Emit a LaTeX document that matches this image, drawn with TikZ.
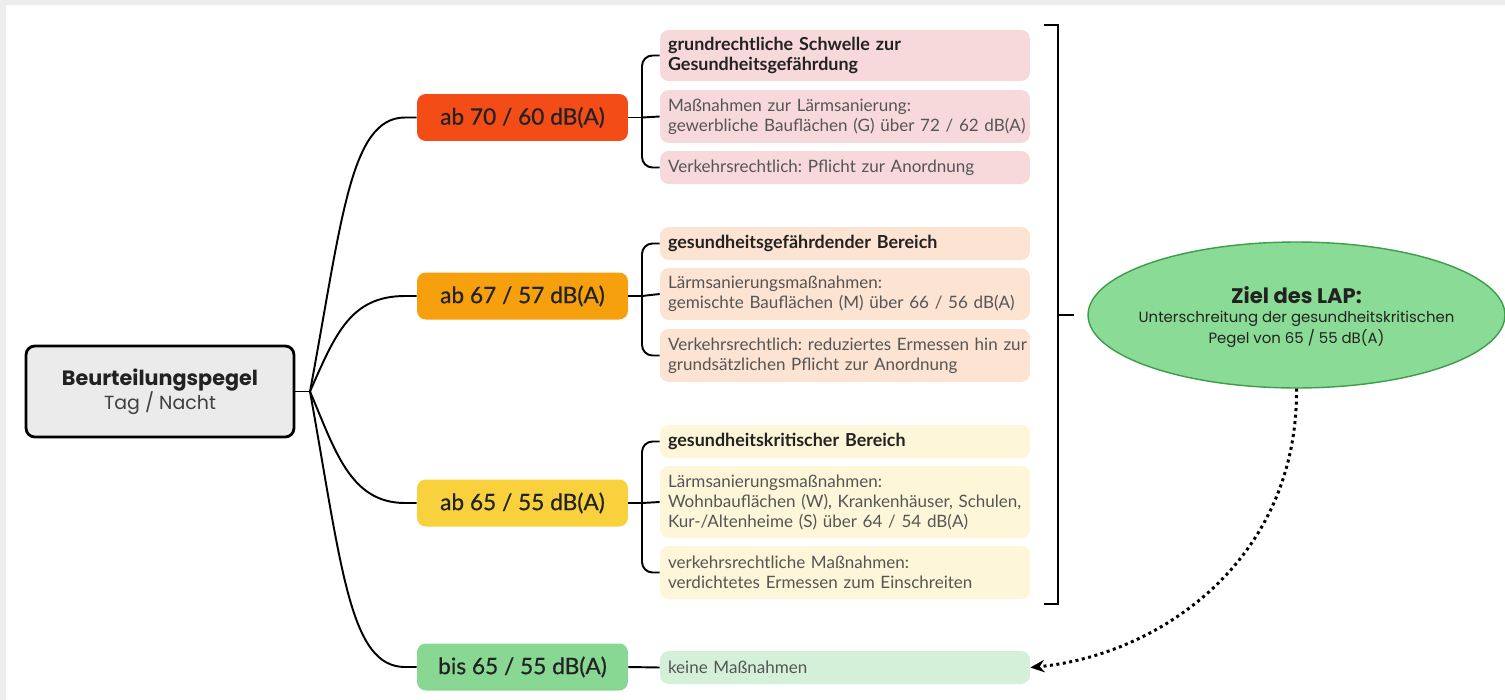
\documentclass[tikz,border=0pt]{standalone}
\usepackage{fontspec}
\setmainfont{Lato}
\newfontfamily\pop{Poppins}
\newfontfamily\latomed[FakeBold=0.5]{Lato}
\usetikzlibrary{arrows.meta,shapes.geometric}
\frenchspacing
\definecolor{bgframe}{HTML}{EDEDED}
\definecolor{rootfill}{HTML}{EBEBEB}
\definecolor{lvA}{HTML}{F44C16}
\definecolor{lvB}{HTML}{F6A00E}
\definecolor{lvC}{HTML}{F8D13C}
\definecolor{lvD}{HTML}{88D894}
\definecolor{itA}{HTML}{F8D9DB}
\definecolor{itB}{HTML}{FCE3D2}
\definecolor{itC}{HTML}{FEF6D9}
\definecolor{itD}{HTML}{D4F0D8}
\definecolor{ellfill}{HTML}{8ADB95}
\definecolor{elldraw}{HTML}{3E9C4B}
\definecolor{txtdark}{HTML}{222222}
\definecolor{txtgray}{HTML}{555555}
\definecolor{txtsub}{HTML}{404040}
\newcommand{\subfnt}{\pop\mdseries\fontsize{8.5}{10.5}\selectfont}
\begin{document}
\begin{tikzpicture}[x=0.02cm,y=-0.02cm,
  rootbox/.style={draw=black,line width=1.6pt,rounded corners=5pt,fill=rootfill,
    minimum width=5.36cm,minimum height=1.82cm,align=center,font=\pop\fontsize{10.8}{13}\selectfont,text=txtdark},
  level/.style={rounded corners=5pt,minimum width=4.22cm,minimum height=0.94cm,
    font=\latomed\fontsize{12.9}{15}\selectfont,text=txtdark,inner sep=0pt},
  item/.style={rounded corners=5pt,minimum width=7.4cm,text width=7.08cm,align=left,
    inner xsep=0.16cm,inner ysep=0pt,font=\fontsize{9.7}{11.4}\selectfont,text=txtgray},
  itembold/.style={item,font=\bfseries\fontsize{10.2}{11.4}\selectfont,text=txtdark},
  conn/.style={line width=1.1pt,draw=black},
  brk/.style={conn,rounded corners=6pt}
]
% background
\fill[bgframe] (0,0) rectangle (1505,700);
\fill[white] (6,5) rectangle (1505,700);
\useasboundingbox (0,0) rectangle (1505,700);

% root
\node[rootbox] (root) at (160,391.5) {{\bfseries\fontsize{11.8}{13}\selectfont Beurteilungspegel}\\[-1pt]\textcolor{txtsub}{Tag / Nacht}};
\coordinate (hub) at (310,391.5);

% levels
\node[level,fill=lvA] (l1) at (522.5,117.5) {ab 70 / 60 dB(A)};
\node[level,fill=lvB] (l2) at (522.5,296) {ab 67 / 57 dB(A)};
\node[level,fill=lvC] (l3) at (522.5,503) {ab 65 / 55 dB(A)};
\node[level,fill=lvD] (l4) at (522.5,667) {bis 65 / 55 dB(A)};

% items group 1
\node[itembold,fill=itA,minimum height=1.02cm] (g1a) at (845,55.5) {grundrechtliche Schwelle zur\\Gesundheitsgefährdung};
\node[item,fill=itA,minimum height=1.06cm] (g1b) at (845,116.5) {\mbox{Maßnahmen zur Lärmsanierung:}\\\mbox{gewerbliche Bauflächen (G) über 72 / 62 dB(A)}};
\node[item,fill=itA,minimum height=0.66cm] (g1c) at (845,167.5) {\mbox{Verkehrsrechtlich: Pflicht zur Anordnung}};
% group 2
\node[itembold,fill=itB,minimum height=0.66cm] (g2a) at (845,243.5) {gesundheitsgefährdender Bereich};
\node[item,fill=itB,minimum height=1.04cm] (g2b) at (845,294) {\mbox{Lärmsanierungsmaßnahmen:}\\\mbox{gemischte Bauflächen (M) über 66 / 56 dB(A)}};
\node[item,fill=itB,minimum height=1.06cm] (g2c) at (845,355.5) {\mbox{Verkehrsrechtlich: reduziertes Ermessen hin zur}\\\mbox{grundsätzlichen Pflicht zur Anordnung}};
% group 3
\node[itembold,fill=itC,minimum height=0.66cm] (g3a) at (845,441.5) {gesundheitskritischer Bereich};
\node[item,fill=itC,minimum height=1.44cm] (g3b) at (845,502) {\mbox{Lärmsanierungsmaßnahmen:}\\\mbox{Wohnbauflächen (W), Krankenhäuser, Schulen,}\\\mbox{Kur-/Altenheime (S) über 64 / 54 dB(A)}};
\node[item,fill=itC,minimum height=1.06cm] (g3c) at (845,572.5) {\mbox{verkehrsrechtliche Maßnahmen:}\\\mbox{verdichtetes Ermessen zum Einschreiten}};
% group 4
\node[item,fill=itD,minimum height=0.66cm] (g4) at (845,667.5) {keine Maßnahmen};

% root to levels
\draw[conn] (root.east) -- (hub);
\draw[conn] (hub) .. controls (342,220) and (350,117.5) .. (405,117.5) -- (l1.west);
\draw[conn] (hub) .. controls (335,335) and (350,296) .. (405,296) -- (l2.west);
\draw[conn] (hub) .. controls (335,450) and (350,503) .. (405,503) -- (l3.west);
\draw[conn] (hub) .. controls (342,570) and (350,667) .. (405,667) -- (l4.west);

% brackets
\coordinate (b1) at (642,117.5);
\draw[conn] (l1.east) -- (b1);
\draw[brk] (g1a.west) -| (b1) |- (g1c.west);
\draw[conn] (b1) -- (g1b.west);
\coordinate (b2) at (642,296);
\draw[conn] (l2.east) -- (b2);
\draw[brk] (g2a.west) -| (b2) |- (g2c.west);
\draw[conn] (b2) -- (g2b.west);
\coordinate (b3) at (642,503);
\draw[conn] (l3.east) -- (b3);
\draw[brk] (g3a.west) -| (b3) |- (g3c.west);
\draw[conn] (b3) -- (g3b.west);
\draw[conn] (l4.east) -- (g4.west);

% ellipse
\node[ellipse,draw=elldraw,line width=0.8pt,fill=ellfill,minimum width=8.34cm,minimum height=2.92cm,
  inner sep=0pt] (goal) at (1296.5,315) {};
\node[align=center,inner sep=0pt,text=txtdark,font=\pop] (goaltext) at (1296.5,317)
  {\bfseries\fontsize{12}{14}\selectfont Ziel des LAP:\\[-1pt]
   \subfnt Unterschreitung der gesundheitskritischen\\\subfnt Pegel von 65 / 55 dB(A)};

% big bracket
\coordinate (bt) at (1058,25);
\coordinate (bb) at (1058,604);
\coordinate (bm) at (1058,315);
\draw[conn] (1044,25) -- (bt) -- (bb) -- (1044,604);
\draw[conn] (bm) -- (1074,315);

% dotted arrow
\draw[line width=1.7pt,dotted,-{Stealth[length=8pt,width=7pt]}] (goal.south) .. controls (1298,560) and (1160,655) .. (g4.east);
\end{tikzpicture}
\end{document}
